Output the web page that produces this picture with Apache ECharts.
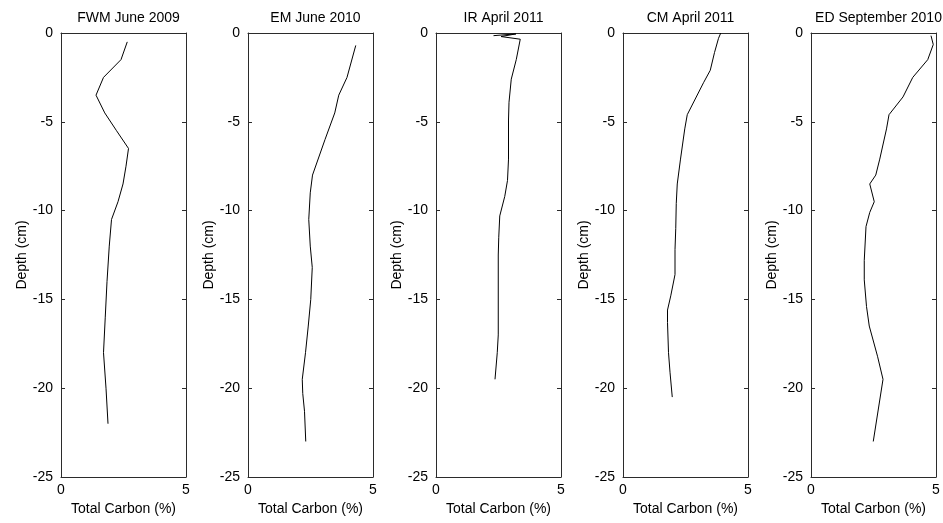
<!DOCTYPE html>
<html>
<head>
<meta charset="utf-8">
<script src="https://cdn.jsdelivr.net/npm/echarts@6/dist/echarts.min.js"></script>
<style>html,body{margin:0;padding:0;background:#fff}#c{width:943px;height:523px}</style>
</head>
<body>
<div id="c"></div>
<script>
// Panel titles
const titles = ["FWM June 2009", "EM June 2010", "IR April 2011", "CM April 2011", "ED September 2010"];
// Axis ticks
const xTicks = [0, 5];
const yTicks = [-25, -20, -15, -10, -5, 0];

// FWM June 2009
const depth1 = [-0.5,-1.5,-2.5,-3.5,-4.5,-5.5,-6.5,-7.5,-8.5,-9.5,-10.5,-12,-14,-16,-18,-20,-22];
const carbon1 = [2.65,2.4,1.7,1.4,1.75,2.22,2.7,2.6,2.48,2.28,2.02,1.93,1.84,1.77,1.7,1.8,1.88];
// EM June 2010
const depth2 = [-0.7,-2.5,-3.5,-4.5,-6,-8,-9,-10.5,-12,-13.2,-15,-16.5,-18,-19.5,-20.3,-21.3,-23];
const carbon2 = [4.31,3.96,3.63,3.47,3.08,2.58,2.49,2.43,2.49,2.57,2.51,2.41,2.3,2.17,2.19,2.26,2.31];
// IR April 2011
const depth3 = [-0.15,-0.05,-0.2,-0.35,-1.5,-2.6,-3.9,-4.9,-7.1,-8.3,-9.2,-10.3,-11.5,-12.5,-17,-18,-19.5];
const carbon3 = [2.3,3.2,2.6,3.37,3.21,3.01,2.92,2.9,2.9,2.86,2.75,2.55,2.51,2.49,2.49,2.45,2.36];
// CM April 2011
const depth4 = [0,-0.3,-1.1,-2.1,-2.8,-4.6,-5.4,-7.1,-8.5,-9.6,-11,-12.2,-13.6,-14.8,-15.6,-16.3,-18,-19.1,-20.5];
const carbon4 = [3.91,3.82,3.66,3.49,3.22,2.57,2.47,2.3,2.17,2.13,2.11,2.08,2.08,1.91,1.78,1.78,1.82,1.88,1.97];
// ED September 2010
const depth5 = [-0.15,-0.65,-1.5,-2.5,-3.6,-4.6,-5.4,-7.1,-8,-8.5,-9.5,-10.1,-10.9,-12.8,-13.9,-15.4,-16.5,-18.2,-19.5,-23];
const carbon5 = [4.8,4.89,4.67,4.07,3.68,3.12,3.02,2.75,2.59,2.35,2.53,2.35,2.2,2.13,2.13,2.22,2.33,2.66,2.88,2.49];

const depths = [depth1, depth2, depth3, depth4, depth5];
const carbons = [carbon1, carbon2, carbon3, carbon4, carbon5];

const FONT = "'Liberation Sans', Arial, Helvetica, sans-serif";
const AXC = '#2b2b2b';
const lefts = [61, 248, 436, 623, 811];
const W = 125, TOP = 33, H = 444;

const grid = [], xAxis = [], yAxis = [], series = [], title = [];
for (let i = 0; i < 5; i++) {
  grid.push({left: lefts[i], top: TOP, width: W, height: H, containLabel: false, outerBoundsMode: 'none'});
  title.push({text: titles[i], left: lefts[i] + W / 2, top: 6, textAlign: 'center',
    textStyle: {fontFamily: FONT, fontSize: 14, fontWeight: 'normal', color: '#000'}});
  const common = {
    gridIndex: i, type: 'value', min: xTicks[0], max: xTicks[xTicks.length - 1],
    interval: xTicks[1] - xTicks[0], splitLine: {show: false},
    axisLine: {show: true, onZero: false, lineStyle: {color: AXC, width: 1}},
    axisTick: {show: true, inside: true, length: 4, lineStyle: {color: AXC}}
  };
  xAxis.push(Object.assign({}, common, {
    position: 'bottom', name: 'Total Carbon (%)', nameLocation: 'middle', nameGap: 23,
    nameTextStyle: {fontFamily: FONT, fontSize: 14, color: '#000'},
    axisLabel: {show: true, margin: 6, fontFamily: FONT, fontSize: 14, color: '#000', showMinLabel: true, showMaxLabel: true}
  }));
  xAxis.push(Object.assign({}, common, {position: 'top', axisLabel: {show: false}}));
  const ycommon = {
    gridIndex: i, type: 'value', min: yTicks[0], max: yTicks[yTicks.length - 1],
    interval: yTicks[1] - yTicks[0], splitLine: {show: false},
    axisLine: {show: true, onZero: false, lineStyle: {color: AXC, width: 1}},
    axisTick: {show: true, inside: true, length: 4, lineStyle: {color: AXC}}
  };
  yAxis.push(Object.assign({}, ycommon, {
    position: 'left', name: 'Depth (cm)', nameLocation: 'middle', nameGap: 27, nameRotate: 90,
    nameTextStyle: {fontFamily: FONT, fontSize: 14, color: '#000'},
    axisLabel: {show: true, margin: 8, fontFamily: FONT, fontSize: 14, color: '#000', showMinLabel: true, showMaxLabel: true}
  }));
  yAxis.push(Object.assign({}, ycommon, {position: 'right', axisLabel: {show: false}}));
  series.push({
    type: 'line', xAxisIndex: 2 * i, yAxisIndex: 2 * i, showSymbol: false, symbol: 'none',
    lineStyle: {color: '#000', width: 1}, silent: true,
    data: depths[i].map((d, k) => [carbons[i][k], d])
  });
}

const chart = echarts.init(document.getElementById('c'), null, {renderer: 'canvas'});
chart.setOption({animation: false, backgroundColor: '#fff', title, grid, xAxis, yAxis, series});
</script>
</body>
</html>
